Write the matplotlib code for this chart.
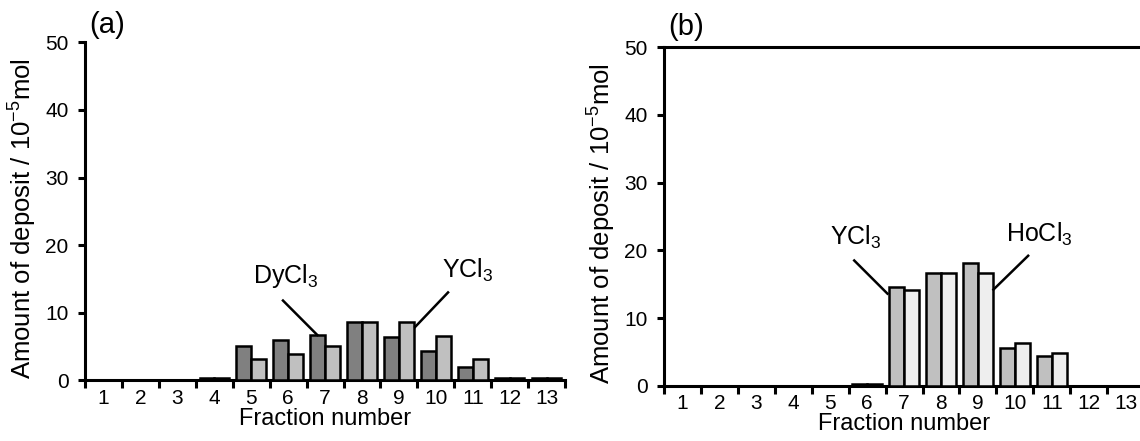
import matplotlib.pyplot as plt
import numpy as np

plt.rcParams['font.family'] = ['Liberation Sans', 'DejaVu Sans']
plt.rcParams['mathtext.fontset'] = 'custom'
plt.rcParams['mathtext.rm'] = 'Liberation Sans'
plt.rcParams['mathtext.it'] = 'Liberation Sans'

fractions = list(range(1, 14))

# panel (a): DyCl3 / YCl3
dy_a = [0, 0, 0, 0.4, 5.1, 6.0, 6.7, 8.7, 6.4, 4.3, 2.0, 0.4, 0.4]
y_a = [0, 0, 0, 0.4, 3.1, 3.9, 5.1, 8.7, 8.7, 6.6, 3.1, 0.4, 0.4]

# panel (b): YCl3 / HoCl3
y_b = [0, 0, 0, 0, 0, 0.3, 14.6, 16.6, 18.1, 5.6, 4.4, 0, 0]
ho_b = [0, 0, 0, 0, 0, 0.3, 14.2, 16.6, 16.6, 6.3, 4.8, 0, 0]

yticks = [0, 10, 20, 30, 40, 50]
fs = 15


def draw_panel(ax, first, second, c1, c2, tag, tag_y, top_spine):
    x = np.array(fractions)
    ax.bar(x - 0.2, first, width=0.4, color=c1, edgecolor='black', linewidth=1.8, zorder=3)
    ax.bar(x + 0.2, second, width=0.4, color=c2, edgecolor='black', linewidth=1.8, zorder=3)
    ax.set_xlim(0.5, 13.5)
    ax.set_ylim(0, 50)
    ax.set_yticks(yticks)
    ax.set_xticks(np.arange(0.5, 14, 1))
    ax.set_xticklabels([])
    ax.set_xticks(fractions, minor=True)
    ax.set_xticklabels([str(f) for f in fractions], minor=True, fontsize=fs)
    ax.tick_params(axis='x', which='major', direction='out', length=6, width=2.2)
    ax.tick_params(axis='x', which='minor', length=0, pad=6)
    ax.tick_params(axis='y', direction='out', length=5, width=2.2, labelsize=fs, pad=7)
    for s in ['left', 'bottom', 'top']:
        ax.spines[s].set_linewidth(2.2)
    ax.spines['right'].set_visible(False)
    ax.spines['top'].set_visible(top_spine)
    ax.set_xlabel('Fraction number', fontsize=17, labelpad=0)
    ax.set_ylabel('Amount of deposit / 10$^{-5}$mol', fontsize=18.5)
    ax.yaxis.set_label_coords(-0.096, 0.48)
    ax.text(0.008, tag_y, tag, transform=ax.transAxes, fontsize=21, ha='left', va='baseline')


fig = plt.figure(figsize=(11.4, 4.41), dpi=100)
ax1 = fig.add_axes([0.0746, 0.1376, 0.4211, 0.7665])
ax2 = fig.add_axes([0.5825, 0.1254, 0.4211, 0.7673])

draw_panel(ax1, dy_a, y_a, '#808080', '#c0c0c0', '(a)', 1.0275, False)
draw_panel(ax2, y_b, ho_b, '#c0c0c0', '#eeeeee', '(b)', 1.036, True)

line = dict(color='black', lw=1.8, zorder=4)
txt = dict(fontsize=18, ha='left', va='baseline')

ax1.text(5.05, 14.4, 'DyCl$_3$', **txt)
ax1.plot([5.86, 6.79], [11.8, 6.7], **line)
ax1.text(10.17, 15.2, 'YCl$_3$', **txt)
ax1.plot([10.33, 9.44], [13.0, 7.9], **line)

ax2.text(5.0, 20.8, 'YCl$_3$', **txt)
ax2.plot([5.65, 6.55], [18.5, 13.6], **line)
ax2.text(9.76, 21.2, 'HoCl$_3$', **txt)
ax2.plot([10.36, 9.42], [19.2, 14.2], **line)

fig.savefig('out.png', dpi=100)
